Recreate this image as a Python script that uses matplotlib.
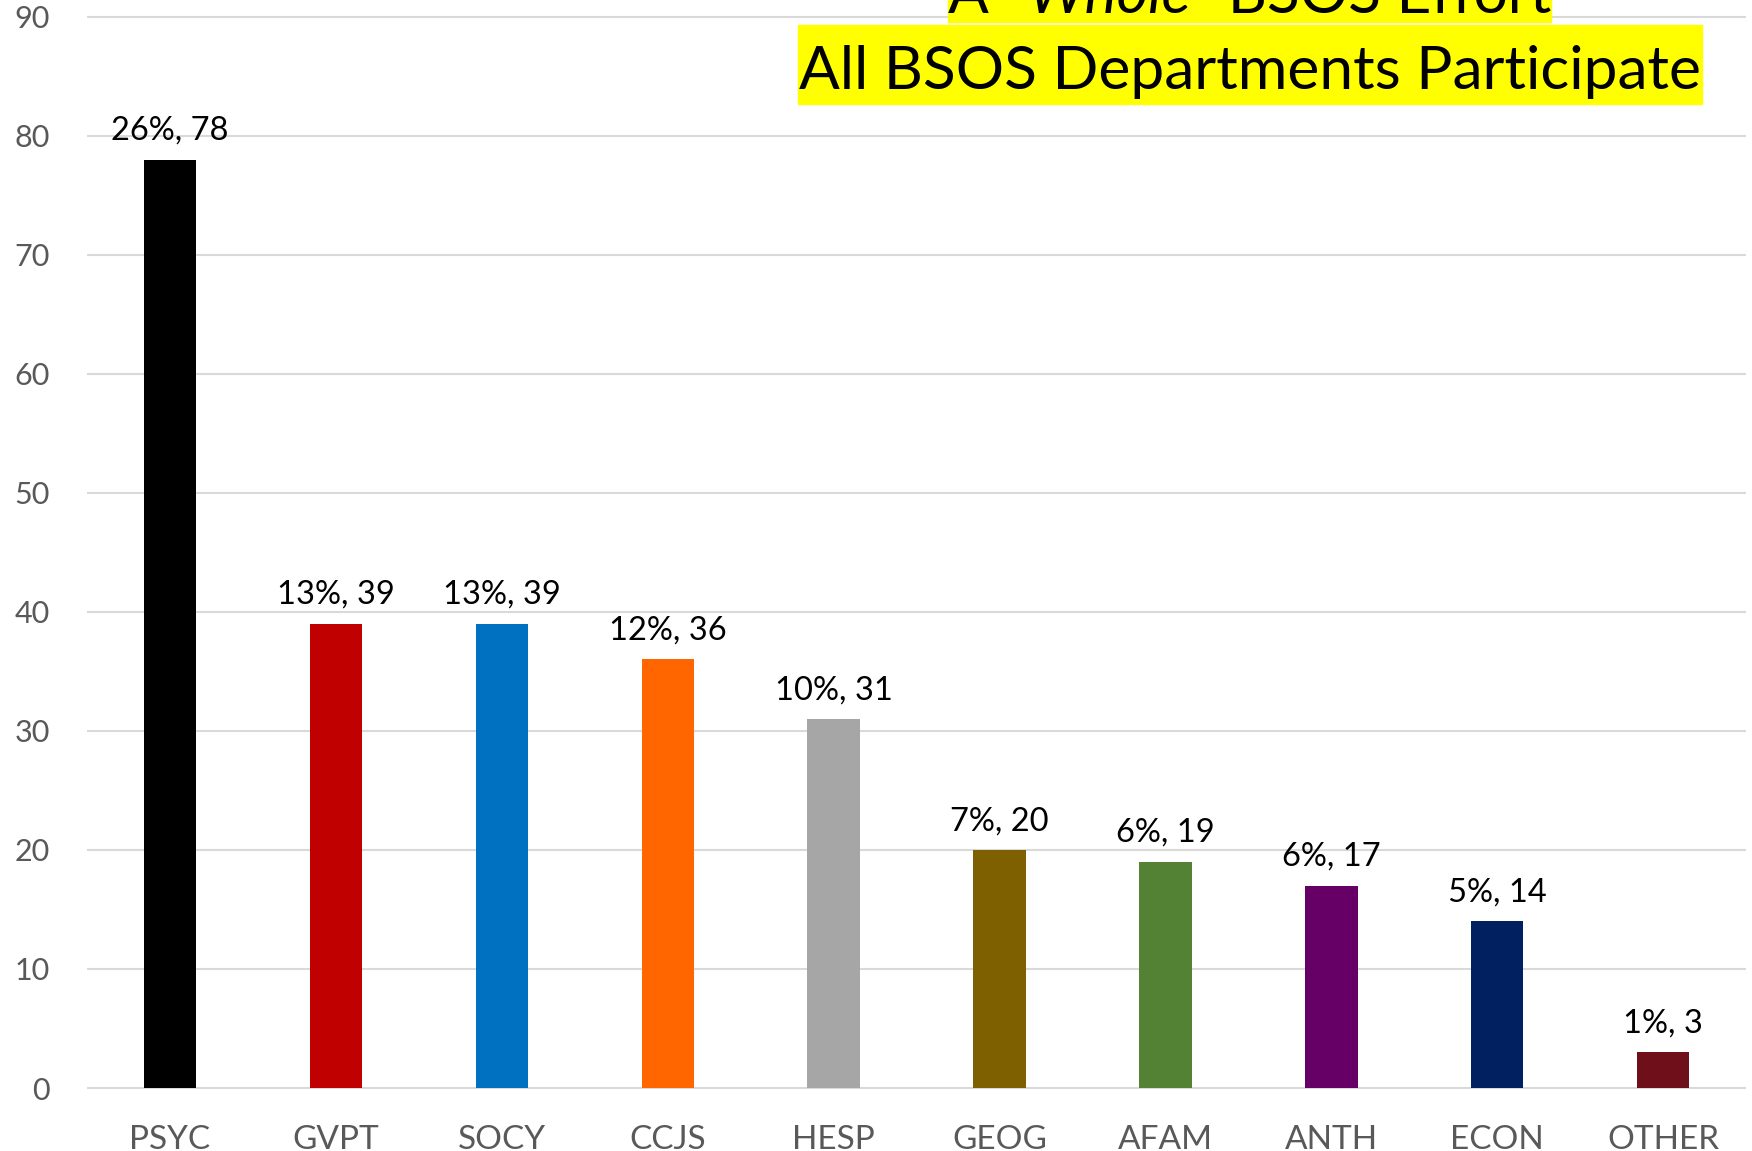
import matplotlib
matplotlib.use("Agg")
import matplotlib.pyplot as plt
from matplotlib.patches import Rectangle

departments = ['PSYC', 'GVPT', 'SOCY', 'CCJS', 'HESP', 'GEOG', 'AFAM', 'ANTH', 'ECON', 'OTHER']
counts = [78, 39, 39, 36, 31, 20, 19, 17, 14, 3]
percents = [26, 13, 13, 12, 10, 7, 6, 6, 5, 1]
bar_colors = ['#000000', '#C00000', '#0070C0', '#FF6600', '#A6A6A6',
              '#7F6000', '#548235', '#660066', '#002060', '#6E0F1A']
y_ticks = [0, 10, 20, 30, 40, 50, 60, 70, 80, 90]

plt.rcParams['font.family'] = ['Lato', 'DejaVu Sans']

W, H = 1752, 1151
fig = plt.figure(figsize=(W / 100, H / 100), dpi=100)
ax = fig.add_axes([0.0497, 0.0516, 0.9469, 0.9484])

x = range(len(departments))
bars = ax.bar(x, counts, width=0.316, color=bar_colors, zorder=3)
for b, c, p in zip(bars, counts, percents):
    ax.annotate(f'{p}%, {c}', (b.get_x() + b.get_width() / 2, c),
                xytext=(0, 10), textcoords='offset points',
                ha='center', va='bottom', fontsize=23.5, color='black')

ax.set_xlim(-0.5, 9.5)
ax.set_ylim(-0.3, 91.4)
ax.set_yticks(y_ticks)
ax.set_xticks(list(x))
ax.set_xticklabels(departments)
ax.grid(axis='y', color='#D9D9D9', linewidth=1.5, zorder=0)
ax.tick_params(axis='y', length=0, labelsize=22, labelcolor='#595959', pad=27)
ax.tick_params(axis='x', length=0, labelsize=24, labelcolor='#595959', pad=24)
for s in ax.spines.values():
    s.set_visible(False)


def fy(px):  # pixel from top -> figure fraction
    return 1 - px / H


# title boxes
fig.patches.append(Rectangle((798 / W, fy(104)), (1702 - 798) / W, (104 - 25) / H,
                             transform=fig.transFigure, color='#FFFF00', zorder=5))
fig.patches.append(Rectangle((948 / W, fy(22)), (1551 - 948) / W, 22 / H,
                             transform=fig.transFigure, color='#FFFF00', zorder=5))
fig.text(1250 / W, fy(89), 'All BSOS Departments Participate', fontsize=43.5,
         ha='center', va='baseline', zorder=6)

# first title line with italic word
parts = [('A "', 'normal'), ('Whole', 'italic'), ('" BSOS Effort', 'normal')]
r = fig.canvas.get_renderer()
texts = [fig.text(0, fy(13), t, fontsize=43.5, style=st, va='baseline', zorder=6)
         for t, st in parts]
widths = [t.get_window_extent(r).width for t in texts]
xpos = 1250 - sum(widths) / 2
for t, w in zip(texts, widths):
    t.set_x(xpos / W)
    xpos += w

fig.savefig('out.png', dpi=100)
